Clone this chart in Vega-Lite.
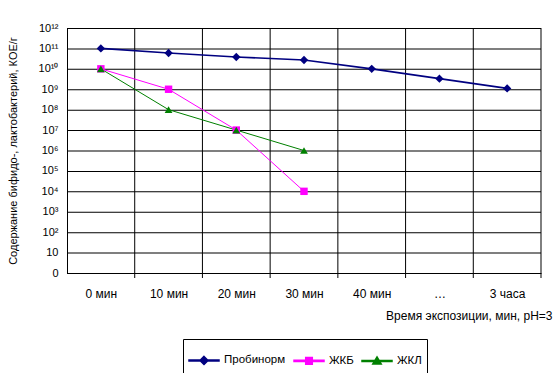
{
  "$schema": "https://vega.github.io/schema/vega-lite/v6.json",
  "autosize": {"type": "none"},
  "padding": {"left": 67, "top": 28, "right": 18, "bottom": 100},
  "width": 474,
  "height": 245,
  "config": {
    "font": "Liberation Sans",
    "view": {"stroke": null}
  },
  "datasets": {
    "points": [
      {"series": "Пробинорм", "time": "0 мин", "value": 1e11},
      {"series": "Пробинорм", "time": "10 мин", "value": 6e10},
      {"series": "Пробинорм", "time": "20 мин", "value": 3.8e10},
      {"series": "Пробинорм", "time": "30 мин", "value": 2.7e10},
      {"series": "Пробинорм", "time": "40 мин", "value": 1e10},
      {"series": "Пробинорм", "time": "…", "value": 3.3e9},
      {"series": "Пробинорм", "time": "3 часа", "value": 1.1e9},
      {"series": "ЖКБ", "time": "0 мин", "value": 1e10},
      {"series": "ЖКБ", "time": "10 мин", "value": 1e9},
      {"series": "ЖКБ", "time": "20 мин", "value": 1e7},
      {"series": "ЖКБ", "time": "30 мин", "value": 1e4},
      {"series": "ЖКЛ", "time": "0 мин", "value": 1e10},
      {"series": "ЖКЛ", "time": "10 мин", "value": 1e8},
      {"series": "ЖКЛ", "time": "20 мин", "value": 1e7},
      {"series": "ЖКЛ", "time": "30 мин", "value": 1e6}
    ],
    "categories": [
      {"time": "0 мин"}, {"time": "10 мин"}, {"time": "20 мин"}, {"time": "30 мин"}, {"time": "40 мин"}, {"time": "…"}, {"time": "3 часа"}
    ],
    "levels": [
      {"value": 1}, {"value": 10}, {"value": 100}, {"value": 1000}, {"value": 10000}, {"value": 100000}, {"value": 1000000},
      {"value": 10000000}, {"value": 100000000}, {"value": 1000000000}, {"value": 10000000000}, {"value": 100000000000}, {"value": 1000000000000}
    ]
  },
  "layer": [
    {
      "data": {"name": "categories"},
      "mark": {"type": "tick", "orient": "vertical", "color": "black", "size": 245, "thickness": 1, "xOffset": 33.857, "opacity": 1},
      "encoding": {
        "x": {"field": "time", "type": "ordinal",
              "scale": {"type": "band", "paddingInner": 0, "paddingOuter": 0, "domain": ["0 мин", "10 мин", "20 мин", "30 мин", "40 мин", "…", "3 часа"]},
              "axis": {"labelAngle": 0, "tickBand": "extent", "grid": false, "ticks": false, "labelPadding": 15,
                       "domainColor": "black", "labelFontSize": 12, "labelColor": "black",
                       "title": "Время экспозиции, мин, pH=3", "titleFontSize": 12, "titleFontWeight": "normal", "titleColor": "black",
                       "titleAlign": "right", "titleX": 485, "titleY": 42, "titleBaseline": "middle"}},
        "y": {"datum": 1000000, "type": "quantitative"}
      }
    },
    {
      "data": {"name": "levels"},
      "mark": {"type": "rect", "color": "black", "opacity": 1, "y2Offset": 1},
      "encoding": {
        "y": {
          "field": "value", "type": "quantitative",
          "scale": {"type": "log", "domain": [1, 1e12], "nice": false},
          "axis": {
            "values": [1, 10, 100, 1000, 10000, 100000, 1000000, 10000000, 100000000, 1000000000, 10000000000, 100000000000, 1000000000000],
            "labelExpr": "['0','10','10²','10³','10⁴','10⁵','10⁶','10⁷','10⁸','10⁹','10¹⁰','10¹¹','10¹²'][round(log(datum.value)/LN10)]",
            "grid": false, "ticks": false, "domainColor": "black", "labelFontSize": 11, "labelColor": "black", "labelPadding": 9,
            "title": "Содержание бифидо-, лактобактерий, КОЕ/г", "titleFontSize": 11, "titleFontWeight": "normal", "titleColor": "black", "titlePadding": 20
          }
        },
        "y2": {"field": "value"}
      }
    },
    {
      "data": {"name": "categories"},
      "mark": {"type": "tick", "orient": "vertical", "color": "black", "size": 5, "thickness": 1, "xOffset": 33.857, "yOffset": 2.5, "opacity": 1},
      "encoding": {
        "x": {"field": "time", "type": "ordinal"},
        "y": {"datum": 1, "type": "quantitative"}
      }
    },
    {
      "data": {"name": "points"},
      "encoding": {
        "x": {"field": "time", "type": "ordinal"},
        "y": {"field": "value", "type": "quantitative"},
        "color": {
          "field": "series", "type": "nominal",
          "scale": {"domain": ["Пробинорм", "ЖКБ", "ЖКЛ"], "range": ["#000080", "#FF00FF", "#008000"]},
          "legend": {
            "title": null, "orient": "none", "legendX": 116, "legendY": 311, "direction": "horizontal",
            "strokeColor": "black", "padding": 5, "labelFontSize": 11.5, "labelColor": "black",
            "symbolSize": 900, "columnPadding": 5, "labelOffset": 4,
            "encode": {"symbols": {"update": {
              "shape": {"signal": "datum.value === 'Пробинорм' ? 'M-1,-0.035H1V0.035H-1ZM0,-0.27L0.27,0L0,0.27L-0.27,0Z' : datum.value === 'ЖКБ' ? 'M-1,-0.035H1V0.035H-1ZM-0.22,-0.22H0.22V0.22H-0.22Z' : 'M-1,-0.035H1V0.035H-1ZM0,-0.27L0.28,0.2H-0.28Z'"},
              "size": {"value": 900},
              "fill": {"scale": "color", "field": "value"},
              "fillOpacity": {"value": 1},
              "opacity": {"value": 1}
            }}}
          }
        }
      },
      "layer": [
        {
          "transform": [{"filter": "datum.series === 'Пробинорм'"}],
          "mark": {"type": "line", "strokeWidth": 1.6}
        },
        {
          "transform": [{"filter": "datum.series !== 'Пробинорм'"}],
          "mark": {"type": "line", "strokeWidth": 1}
        },
        {
          "transform": [{"filter": "datum.series === 'Пробинорм'"}],
          "mark": {"type": "point", "shape": "diamond", "size": 70, "filled": true, "opacity": 1}
        },
        {
          "transform": [{"filter": "datum.series === 'ЖКБ'"}],
          "mark": {"type": "point", "shape": "square", "size": 55, "filled": true, "opacity": 1}
        },
        {
          "transform": [{"filter": "datum.series === 'ЖКЛ'"}],
          "mark": {"type": "point", "shape": "triangle-up", "size": 60, "filled": true, "opacity": 1}
        }
      ]
    }
  ]
}
